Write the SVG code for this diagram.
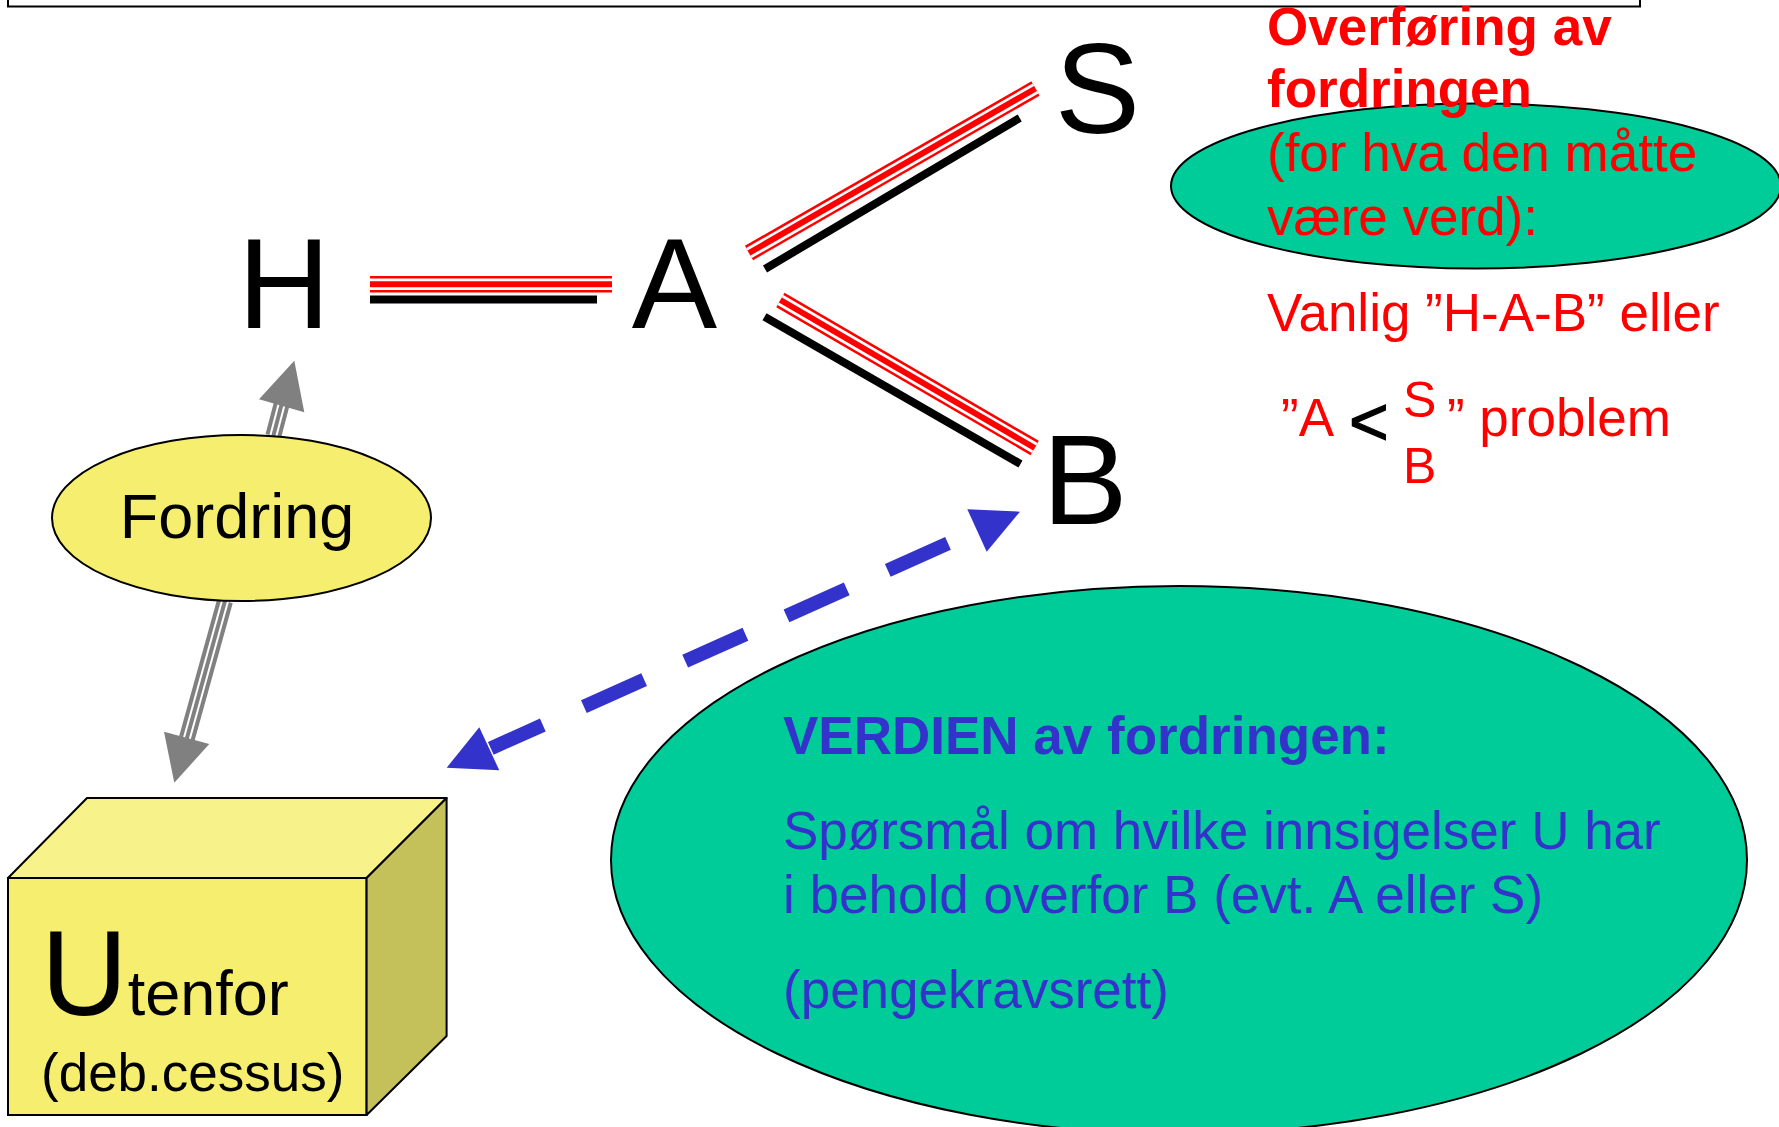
<svg xmlns="http://www.w3.org/2000/svg" width="1779" height="1127" viewBox="0 0 1779 1127">
<style>
text{font-family:"Liberation Sans",Arial,sans-serif}
.big{font-size:128px;fill:#000}
.red{fill:#FF0000;font-size:53px}
.blue{fill:#3333CC;font-size:53px}
.b{font-weight:bold}
.rA{stroke:#FF0000;stroke-width:16.5;fill:none}
.rB{stroke:#FFFFFF;stroke-width:11.5;fill:none}
.rC{stroke:#FF0000;stroke-width:6;fill:none}
.blk{stroke:#000;stroke-width:8;fill:none}
.gA{stroke:#808080;stroke-width:16;fill:none}
.gB{stroke:#FFFFFF;stroke-width:8;fill:none}
.gC{stroke:#808080;stroke-width:4;fill:none}
.gh{fill:#808080}
.bl{stroke:#3333CC;stroke-width:14;fill:none;stroke-dasharray:66 45;stroke-dashoffset:9}
.bh{fill:#3333CC}
.green{fill:#00CC99;stroke:#000;stroke-width:2}
</style>
<rect width="1779" height="1127" fill="#FFFFFF"/>
<path d="M8,-2 V6.5 H1640 V-2" fill="none" stroke="#000" stroke-width="2"/>

<g id="connectors">
  <g id="H-A">
    <path class="rA" d="M370,284.25 H612"/>
    <path class="rB" d="M370,284.25 H612"/>
    <path class="rC" d="M370,284.25 H612"/>
    <path class="blk" d="M370,299.5 H597"/>
  </g>
  <g id="A-S">
    <path class="rA" d="M749,253 L1035.5,88.5"/>
    <path class="rB" d="M749,253 L1035.5,88.5"/>
    <path class="rC" d="M749,253 L1035.5,88.5"/>
    <path class="blk" d="M765,269 L1019.7,118"/>
  </g>
  <g id="A-B">
    <path class="rA" d="M780.4,300 L1034.7,448"/>
    <path class="rB" d="M780.4,300 L1034.7,448"/>
    <path class="rC" d="M780.4,300 L1034.7,448"/>
    <path class="blk" d="M764.5,316.8 L1020.5,464"/>
  </g>
  <g id="Fordring-H">
    <path class="gA" d="M273.3,436 L281.7,404"/>
    <path class="gB" d="M273.3,436 L281.7,404"/>
    <path class="gC" d="M273.3,436 L281.7,404"/>
    <polygon class="gh" points="294.3,360.7 259,399.3 304.3,412.3"/>
  </g>
  <g id="Fordring-U">
    <path class="gA" d="M225,601 L186.7,739"/>
    <path class="gB" d="M225,601 L186.7,739"/>
    <path class="gC" d="M225,601 L186.7,739"/>
    <polygon class="gh" points="164,731.7 209.3,744 174.3,782.7"/>
  </g>
  <g id="U-B">
    <path class="bl" d="M490.8,748.3 L977,530.5"/>
    <polygon class="bh" points="446.7,767.7 479.3,727.3 499.3,770.3"/>
    <polygon class="bh" points="1020,511.7 967.3,509.3 986.7,551.7"/>
  </g>
</g>

<g id="node-H"><text class="big" x="284" y="328" text-anchor="middle">H</text></g>
<g id="node-A"><text class="big" x="674.5" y="328" text-anchor="middle">A</text></g>
<g id="node-S"><text class="big" x="1097.5" y="132.5" text-anchor="middle">S</text></g>
<g id="node-B"><text class="big" x="1085" y="524" text-anchor="middle">B</text></g>

<g id="node-Fordring">
  <ellipse cx="241.5" cy="518" rx="189.5" ry="83" fill="#F5EE6E" stroke="#000" stroke-width="2"/>
  <text x="237" y="537.5" font-size="63" text-anchor="middle" fill="#000">Fordring</text>
</g>

<g id="node-Utenfor">
  <rect x="8" y="878" width="358.6" height="237" fill="#F5EE6E" stroke="#000" stroke-width="2"/>
  <polygon points="8,878 87,798 446.6,798 366.6,878" fill="#F7F28A" stroke="#000" stroke-width="2" stroke-linejoin="round"/>
  <polygon points="366.6,878 446.6,798 446.6,1036 366.6,1115" fill="#C4C05A" stroke="#000" stroke-width="2" stroke-linejoin="round"/>
  <text x="41" y="1015" fill="#000"><tspan font-size="120">U</tspan><tspan font-size="63">tenfor</tspan></text>
  <text x="41" y="1091" font-size="53" fill="#000">(deb.cessus)</text>
</g>

<g id="node-Overforing">
  <ellipse class="green" cx="1476" cy="186" rx="305" ry="82.5"/>
  <text class="red b" x="1267" y="44.6">Overføring av</text>
  <text class="red b" x="1267" y="106.5">fordringen</text>
  <text class="red" x="1267" y="171">(for hva den måtte</text>
  <text class="red" x="1267" y="235">være verd):</text>
  <text class="red" x="1267" y="331">Vanlig ”H-A-B” eller</text>
  <text class="red" x="1281" y="436">”A</text>
  <text x="1349" y="444.5" font-size="68" fill="#000" stroke="#000" stroke-width="1.2">&lt;</text>
  <text class="red" x="1403" y="417" style="font-size:50px">S</text>
  <text class="red" x="1403" y="483" style="font-size:50px">B</text>
  <text class="red" x="1447" y="436">” problem</text>
</g>

<g id="node-Verdien">
  <ellipse class="green" cx="1179" cy="860" rx="568" ry="274"/>
  <text class="blue b" x="783" y="754">VERDIEN av fordringen:</text>
  <text class="blue" x="783" y="849">Spørsmål om hvilke innsigelser U har</text>
  <text class="blue" x="783" y="913">i behold overfor B (evt. A eller S)</text>
  <text class="blue" x="783" y="1008">(pengekravsrett)</text>
</g>
</svg>
